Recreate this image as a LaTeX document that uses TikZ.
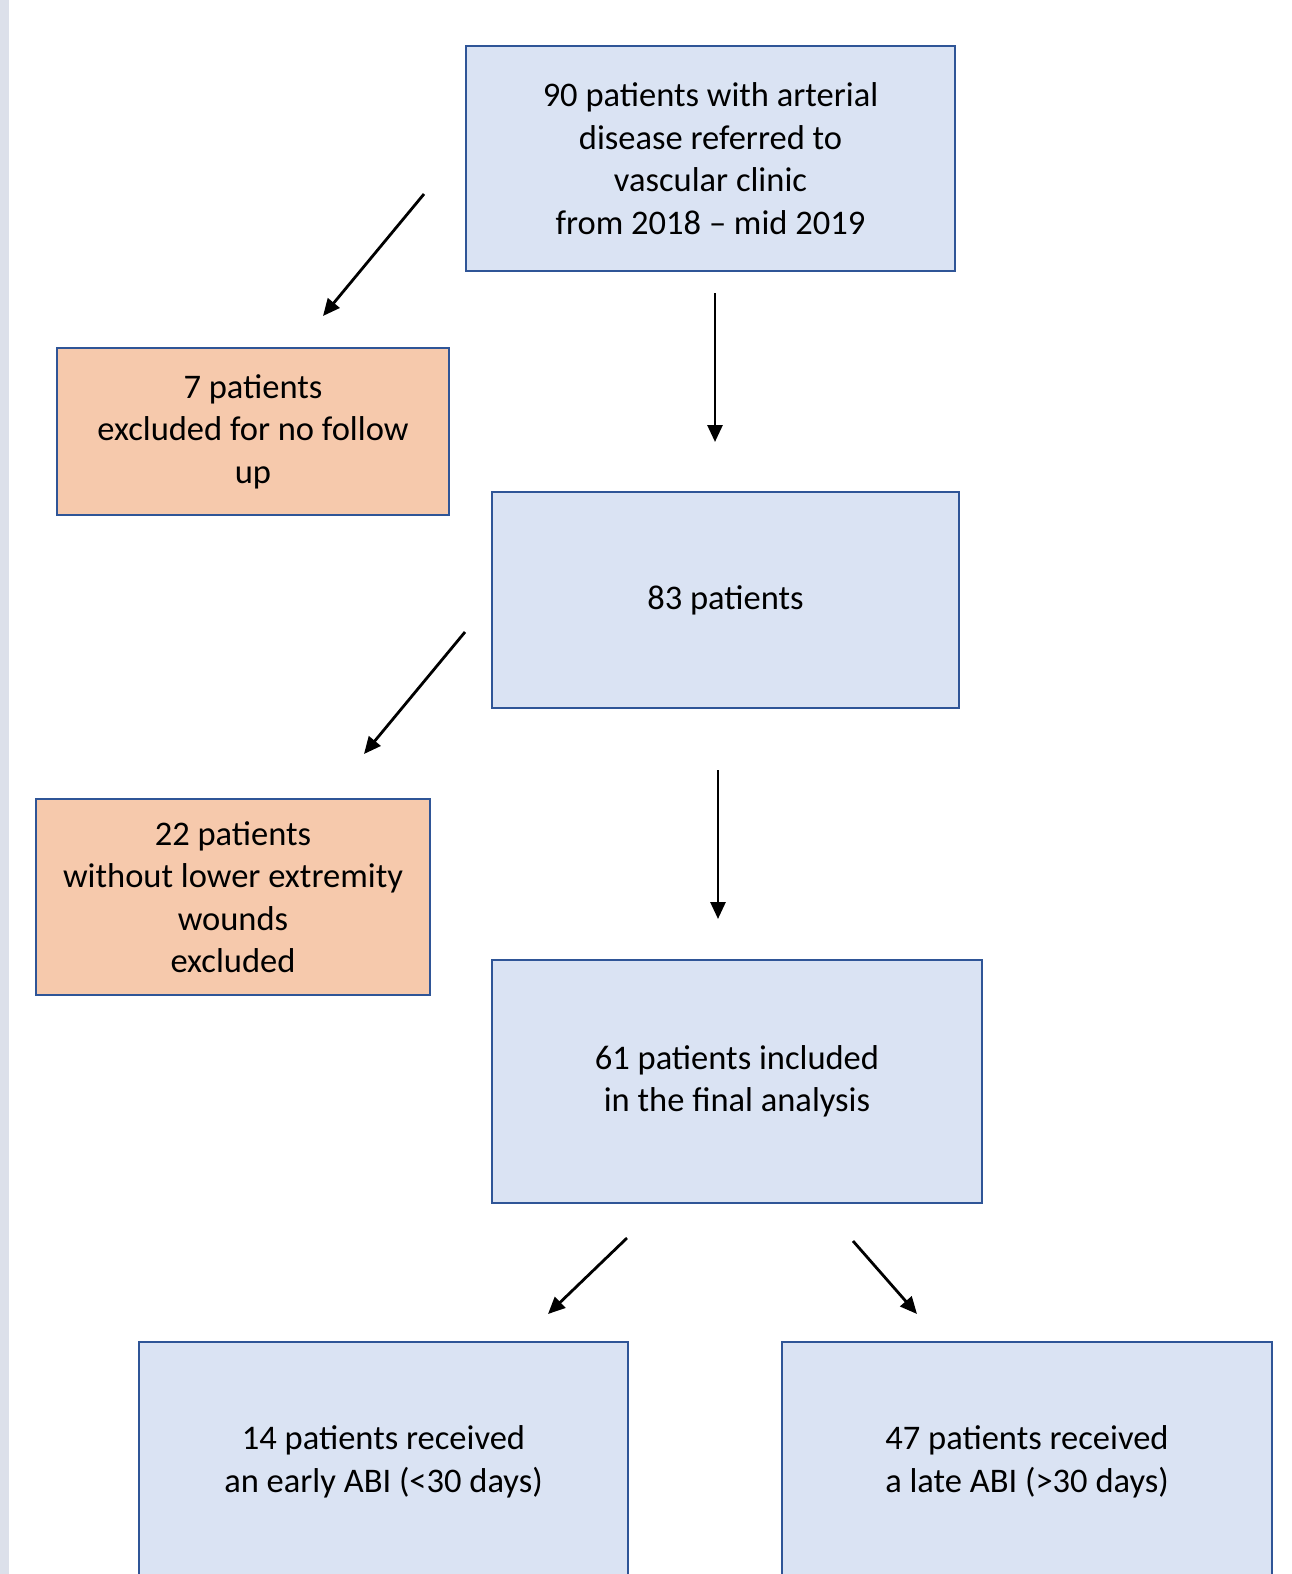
\documentclass[tikz,border=0pt]{standalone}
\usepackage{fontspec}
\setmainfont{Carlito}
\usepackage{tikz}
\usetikzlibrary{arrows.meta,positioning}
\usepackage{xcolor}
\definecolor{boxblue}{HTML}{DAE3F3}
\definecolor{boxedge}{HTML}{2F5597}
\definecolor{boxpeach}{HTML}{F6C9AC}
\definecolor{sidestrip}{HTML}{DCE0EA}

\begin{document}
\begin{tikzpicture}[
  x=1pt,
  y=-1pt,
  >={Triangle[length=17pt,width=15pt]},
  flow/.style={->,line width=2.8pt},
  cohort/.style={draw=boxedge,line width=2.8pt,fill=boxblue,align=center,
    inner sep=0pt,font=\fontsize{34.5}{42.5}\selectfont},
  excluded/.style={cohort,fill=boxpeach}
]
\useasboundingbox (0,0) rectangle (1292,1574);
\fill[sidestrip] (0,0) rectangle (9,1574);

\node[cohort,minimum width=489pt,minimum height=225pt] (referred) at (710.5,158.5)
  {90 patients with arterial\\disease referred to\\vascular clinic\\from 2018 -- mid 2019};
\node[excluded,minimum width=392pt,minimum height=167pt] (nofollow) at (253,431.5)
  {7 patients\\excluded for no follow\\up};
\node[cohort,minimum width=467pt,minimum height=216pt] (remaining) at (725.5,600)
  {83 patients};
\node[excluded,minimum width=394pt,minimum height=196pt] (nowound) at (233,897)
  {22 patients\\without lower extremity\\wounds\\excluded};
\node[cohort,minimum width=490pt,minimum height=243pt] (included) at (737,1081.5)
  {61 patients included\\in the final analysis};
\node[cohort,minimum width=489pt,minimum height=240pt] (early) at (383.5,1462)
  {14 patients received\\an early ABI (<30 days)};
\node[cohort,minimum width=490pt,minimum height=240pt] (late) at (1027,1462)
  {47 patients received\\a late ABI (>30 days)};

% free-standing arrow ends
\coordinate (a1s) at (424,194);  \coordinate (a1e) at (323,316);
\coordinate (a2s) at (715,293);  \coordinate (a2e) at (715,442);
\coordinate (a3s) at (465,632);  \coordinate (a3e) at (364,754);
\coordinate (a4s) at (718,770);  \coordinate (a4e) at (718,919);
\coordinate (a5s) at (627,1238); \coordinate (a5e) at (548,1314);
\coordinate (a6s) at (853,1241); \coordinate (a6e) at (917,1314);

\draw[flow] (a1s) -- (a1e);
\draw[flow] (a2s) -- (a2e);
\draw[flow] (a3s) -- (a3e);
\draw[flow] (a4s) -- (a4e);
\draw[flow] (a5s) -- (a5e);
\draw[flow] (a6s) -- (a6e);

\end{tikzpicture}
\end{document}
